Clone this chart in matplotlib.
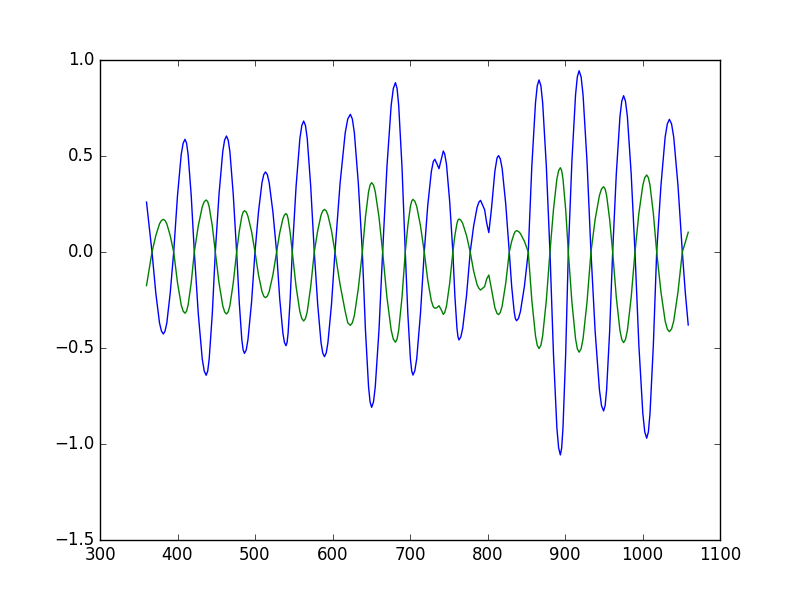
import numpy as np
import matplotlib
matplotlib.use('Agg')
import matplotlib.pyplot as plt

plt.style.use('classic')

# points (x, blue, green)
x = [360.0, 363.5, 367.1,
     372.0, 376.8, 379.3, 381.7, 383.9, 386.2, 390.6, 395.1,
     400.0, 404.8, 407.3, 409.7, 411.7, 413.7, 417.7, 421.7,
     426.8, 431.9, 434.5, 437.0, 439.0, 440.9, 444.9, 448.8,
     453.6, 458.4, 460.8, 463.2, 465.4, 467.6, 471.9, 476.3,
     479.7, 483.0, 484.7, 486.4, 488.7, 490.9, 495.5, 500.0,
     504.5, 509.0, 511.3, 513.5, 515.9, 518.3, 523.1, 527.9,
     531.9, 536.0, 538.0, 540.0, 541.4, 542.7, 545.4, 548.1,
     553.0, 557.9, 560.4, 562.8, 565.1, 567.4, 571.9, 576.5,
     580.9, 585.2, 587.4, 589.6, 591.9, 594.1, 598.7, 603.2,
     609.8, 616.4, 619.7, 623.0, 625.6, 628.2, 633.3, 638.5,
     642.5, 646.5, 648.5, 650.5, 652.9, 655.2, 660.0, 664.7,
     670.2, 675.7, 678.5, 681.2, 683.3, 685.4, 689.7, 693.9,
     697.2, 700.5, 702.2, 703.8, 706.2, 708.7, 713.5, 718.4,
     722.9, 727.5, 730.0, 732.0, 734.7, 737.4, 740.2, 743.0, 744.8, 747.1, 751.2, 755.3,
     757.9, 760.6, 761.9, 763.2, 765.6, 768.0, 772.9, 777.7,
     782.1, 786.6, 789.0, 791.0, 796.3, 799.0, 801.7, 805.0, 809.5, 812.3, 814.3, 816.5,
     818.9, 823.5, 828.1,
     831.2, 834.4, 835.9, 837.5, 840.0, 842.5, 847.6, 852.6,
     857.2, 861.9, 864.2, 866.5, 868.9, 871.2, 875.9, 880.6,
     885.1, 889.5, 891.8, 894.0, 895.7, 897.4, 900.9, 904.3,
     908.9, 913.6, 915.9, 918.2, 920.8, 923.3, 928.4, 933.5,
     938.9, 944.4, 947.1, 949.8, 951.8, 953.7, 957.6, 961.5,
     966.2, 970.9, 973.3, 975.6, 978.0, 980.5, 985.4, 990.3,
     995.3, 1000.4, 1002.9, 1005.4, 1007.6, 1009.7, 1014.0, 1018.3,
     1023.8, 1029.2, 1032.0, 1034.7, 1037.5, 1040.3, 1045.8, 1051.4,
     1055.2, 1059.0]

blue = [0.26, 0.13, 0.0,
        -0.214, -0.370, -0.412, -0.427, -0.412, -0.370, -0.214, 0.0,
        0.294, 0.508, 0.567, 0.587, 0.567, 0.508, 0.294, 0.0,
        -0.321, -0.556, -0.620, -0.642, -0.620, -0.556, -0.321, 0.0,
        0.302, 0.523, 0.583, 0.604, 0.583, 0.523, 0.302, 0.0,
        -0.264, -0.457, -0.510, -0.528, -0.510, -0.457, -0.264, 0.0,
        0.209, 0.361, 0.403, 0.417, 0.403, 0.361, 0.209, 0.0,
        -0.244, -0.423, -0.471, -0.488, -0.471, -0.423, -0.244, 0.0,
        0.341, 0.591, 0.659, 0.682, 0.659, 0.591, 0.341, 0.0,
        -0.273, -0.472, -0.526, -0.545, -0.526, -0.472, -0.273, 0.0,
        0.359, 0.621, 0.693, 0.717, 0.693, 0.621, 0.359, 0.0,
        -0.405, -0.701, -0.781, -0.809, -0.781, -0.701, -0.405, 0.0,
        0.441, 0.764, 0.852, 0.882, 0.852, 0.764, 0.441, 0.0,
        -0.321, -0.555, -0.619, -0.641, -0.619, -0.555, -0.321, 0.0,
        0.242, 0.418, 0.47, 0.483, 0.46, 0.434, 0.48, 0.526, 0.51, 0.456, 0.263, 0.0,
        -0.229, -0.397, -0.442, -0.458, -0.442, -0.397, -0.229, 0.0,
        0.135, 0.233, 0.26, 0.269, 0.22, 0.15, 0.101, 0.22, 0.42, 0.49, 0.502, 0.485,
        0.435, 0.251, 0.0,
        -0.179, -0.310, -0.346, -0.358, -0.346, -0.310, -0.179, 0.0,
        0.448, 0.776, 0.866, 0.896, 0.866, 0.776, 0.448, 0.0,
        -0.529, -0.915, -1.021, -1.057, -1.021, -0.915, -0.529, 0.0,
        0.472, 0.818, 0.912, 0.944, 0.912, 0.818, 0.472, 0.0,
        -0.414, -0.717, -0.800, -0.828, -0.800, -0.717, -0.414, 0.0,
        0.407, 0.705, 0.786, 0.814, 0.786, 0.705, 0.407, 0.0,
        -0.485, -0.840, -0.937, -0.970, -0.937, -0.840, -0.485, 0.0,
        0.346, 0.598, 0.667, 0.691, 0.667, 0.598, 0.346, 0.0,
        -0.21, -0.380]

green = [-0.175, -0.088, 0.0,
         0.085, 0.147, 0.164, 0.170, 0.164, 0.147, 0.085, 0.0,
         -0.160, -0.276, -0.308, -0.319, -0.308, -0.276, -0.160, 0.0,
         0.136, 0.235, 0.262, 0.271, 0.262, 0.235, 0.136, 0.0,
         -0.162, -0.280, -0.312, -0.323, -0.312, -0.280, -0.162, 0.0,
         0.108, 0.186, 0.208, 0.215, 0.208, 0.186, 0.108, 0.0,
         -0.119, -0.206, -0.230, -0.238, -0.230, -0.206, -0.119, 0.0,
         0.100, 0.173, 0.193, 0.200, 0.193, 0.173, 0.100, 0.0,
         -0.180, -0.311, -0.347, -0.359, -0.347, -0.311, -0.180, 0.0,
         0.111, 0.192, 0.214, 0.222, 0.214, 0.192, 0.111, 0.0,
         -0.17, -0.31, -0.369, -0.382, -0.369, -0.331, -0.191, 0.0,
         0.181, 0.313, 0.349, 0.361, 0.349, 0.313, 0.181, 0.0,
         -0.235, -0.407, -0.454, -0.470, -0.454, -0.407, -0.235, 0.0,
         0.137, 0.237, 0.265, 0.274, 0.265, 0.237, 0.137, 0.0,
         -0.147, -0.254, -0.285, -0.293, -0.29, -0.28, -0.30, -0.325, -0.315, -0.281, -0.163, 0.0,
         0.086, 0.149, 0.166, 0.172, 0.166, 0.149, 0.086, 0.0,
         -0.099, -0.171, -0.19, -0.198, -0.18, -0.14, -0.12, -0.19, -0.29, -0.32, -0.326, -0.315,
         -0.282, -0.163, 0.0,
         0.056, 0.096, 0.107, 0.111, 0.107, 0.096, 0.056, 0.0,
         -0.252, -0.436, -0.486, -0.503, -0.486, -0.436, -0.252, 0.0,
         0.220, 0.380, 0.424, 0.439, 0.424, 0.380, 0.220, 0.0,
         -0.261, -0.452, -0.504, -0.522, -0.504, -0.452, -0.261, 0.0,
         0.170, 0.294, 0.328, 0.340, 0.328, 0.294, 0.170, 0.0,
         -0.236, -0.409, -0.456, -0.472, -0.456, -0.409, -0.236, 0.0,
         0.201, 0.347, 0.387, 0.401, 0.387, 0.347, 0.201, 0.0,
         -0.208, -0.359, -0.401, -0.415, -0.401, -0.359, -0.208, 0.0,
         0.05, 0.103]

fig = plt.figure(figsize=(8, 6))
ax = fig.add_subplot(111)
ax.plot(x, blue, 'b-')
ax.plot(x, green, 'g-')
ax.set_xlim(300, 1100)
ax.set_ylim(-1.5, 1.0)

fig.savefig('out.png', dpi=100)
